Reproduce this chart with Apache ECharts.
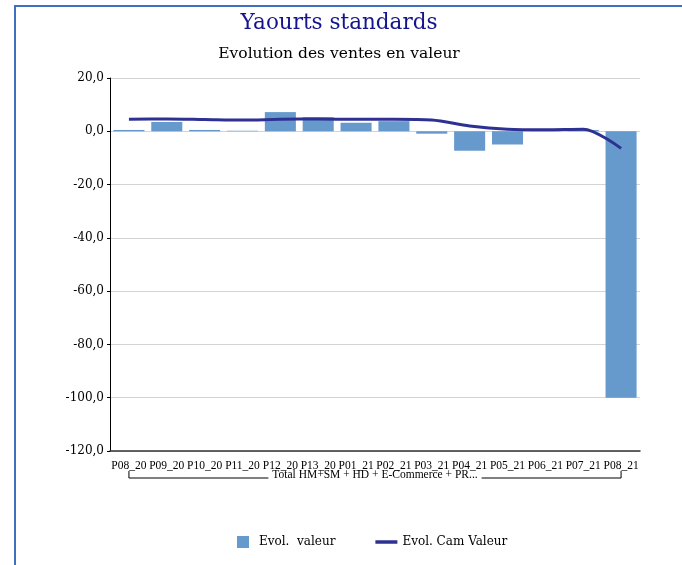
<!DOCTYPE html>
<html>
<head>
<meta charset="utf-8">
<script src="https://cdn.jsdelivr.net/npm/echarts@6/dist/echarts.min.js"></script>
<style>
  html, body { margin: 0; padding: 0; background: #fff; }
  #frame { position: absolute; left: 14px; top: 5px; width: 700px; height: 600px;
           border-left: 2px solid #3f6fbf; border-top: 2px solid #3f6fbf; }
  #main { position: absolute; left: 0; top: 0; width: 682px; height: 565px; }
</style>
</head>
<body>
<div id="frame"></div>
<div id="main"></div>
<script>
// Yaourts standards - evolution des ventes en valeur
const categories = ['P08_20', 'P09_20', 'P10_20', 'P11_20', 'P12_20', 'P13_20', 'P01_21',
  'P02_21', 'P03_21', 'P04_21', 'P05_21', 'P06_21', 'P07_21', 'P08_21']
const groupLabel = 'Total HM+SM + HD + E-Commerce + PR...'
const evolValeur = [0.5, 3.5, 0.5, 0.2, 7.2, 5.3, 3.2, 3.8, -0.9, -7.3, -5.0, 0.1, 0.5, -100.0]
const evolCamValeur = [4.5, 4.6, 4.4, 4.2, 4.5, 4.6, 4.5, 4.5, 4.2, 2.0, 0.8, 0.6, 0.8, -6.4]

const font = '"DejaVu Serif", "Liberation Serif", serif'
const narrow = '"Liberation Serif", serif'
const myChart = echarts.init(document.getElementById('main'))
const option = {
  animation: false,
  title: [
    { text: 'Yaourts standards', left: 334, top: 7, textAlign: 'center',
      textStyle: { fontFamily: font, fontSize: 21.5, fontWeight: 'normal', color: '#14148c' } },
    { text: 'Evolution des ventes en valeur', left: 334, top: 41, textAlign: 'center',
      textStyle: { fontFamily: font, fontSize: 15.5, fontWeight: 'normal', color: '#000' } }
  ],
  legend: {
    bottom: 12, left: 232, itemGap: 40, itemWidth: 22, itemHeight: 12,
    textStyle: { fontFamily: font, fontSize: 12, color: '#000' },
    data: [{ name: 'Evol.  valeur', icon: 'path://M0,0h10v10h-10z', itemStyle: { color: '#6699cc' } },
      { name: 'Evol. Cam Valeur', icon: 'path://M0,0h22v3.5h-22z', itemStyle: { color: '#2e3192' } }]
  },
  grid: { left: 110, right: 42, top: 78, bottom: 114, containLabel: false },
  xAxis: {
    type: 'category', data: categories, position: 'bottom',
    axisLine: { onZero: false, lineStyle: { color: '#333', width: 1.5 } },
    axisTick: { show: false },
    axisLabel: { interval: 0, fontFamily: narrow, fontSize: 11.5, color: '#000', margin: 9 }
  },
  yAxis: {
    type: 'value', min: -120, max: 20, interval: 20,
    axisLine: { show: true, lineStyle: { color: '#000' } },
    axisTick: { show: true, length: 3, lineStyle: { color: '#000' } },
    splitLine: { lineStyle: { color: '#d4d4d4' } },
    axisLabel: { fontFamily: font, fontSize: 12, color: '#000', margin: 6,
      formatter: v => v.toFixed(1).replace('.', ',') }
  },
  series: [
    { name: 'Evol.  valeur', type: 'bar', data: evolValeur, barWidth: '82%',
      itemStyle: { color: '#6699cc' } },
    { name: 'Evol. Cam Valeur', type: 'line', data: evolCamValeur, smooth: 0.3,
      symbol: 'none', lineStyle: { color: '#2e3192', width: 3 }, itemStyle: { color: '#2e3192' } }
  ]
}
myChart.setOption(option)

// group bracket under the category labels
const x0 = myChart.convertToPixel({ xAxisIndex: 0 }, categories[0])
const x1 = myChart.convertToPixel({ xAxisIndex: 0 }, categories[categories.length - 1])
const yb = 478
const mid = (x0 + x1) / 2
myChart.setOption({
  graphic: [
    { type: 'polyline', shape: { points: [[x0, yb - 7], [x0, yb], [x1, yb], [x1, yb - 7]] },
      style: { stroke: '#000', lineWidth: 1, fill: null } },
    { type: 'text', x: mid, y: yb - 3, style: { text: groupLabel, fontFamily: narrow, fontSize: 11.5,
      fill: '#000', align: 'center', verticalAlign: 'middle', backgroundColor: '#fff', padding: [0, 4] } }
  ]
})
</script>
</body>
</html>
